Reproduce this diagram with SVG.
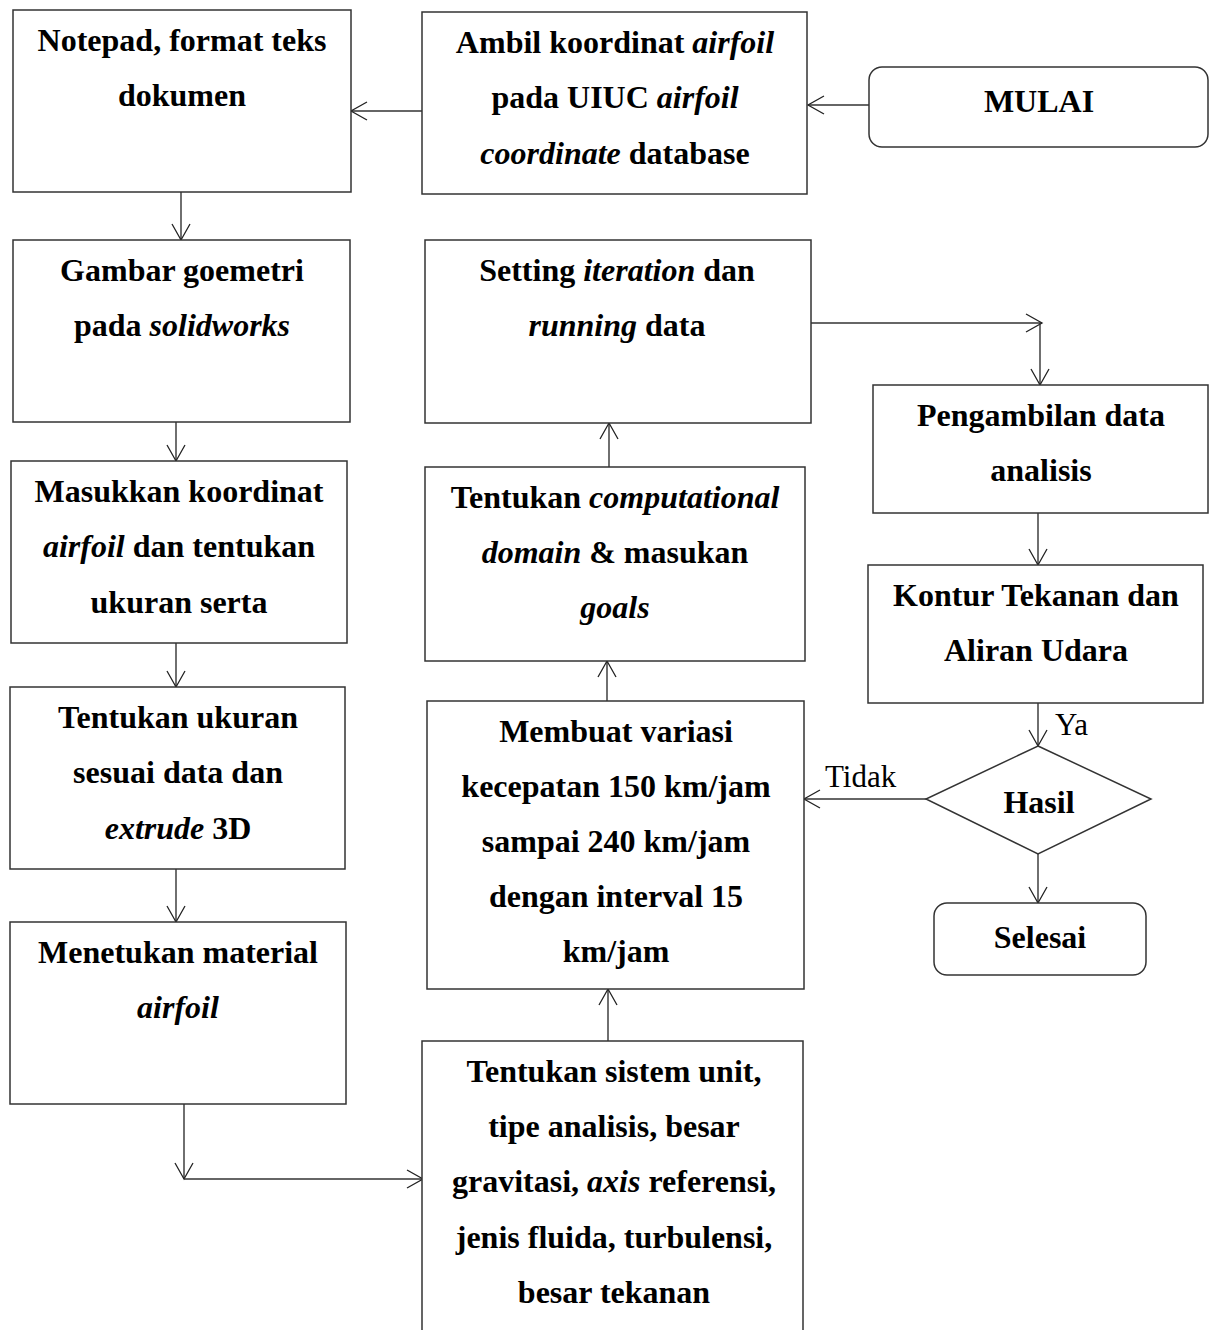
<svg xmlns="http://www.w3.org/2000/svg" width="1214" height="1330" viewBox="0 0 1214 1330">
<defs>
<marker id="arr" markerUnits="userSpaceOnUse" markerWidth="20" markerHeight="22" refX="17" refY="10" orient="auto">
<path d="M1,1 L17,10 L1,19" fill="none" stroke="#222" stroke-width="1.3"/>
</marker>
<style>
.box{fill:#fff;stroke:#333;stroke-width:1.5}
.t{font-family:"Liberation Serif","Times New Roman",serif;font-size:32px;font-weight:bold;fill:#000;text-anchor:middle}
.i{font-style:italic}
.lbl{font-family:"Liberation Serif","Times New Roman",serif;font-size:31px;fill:#000}
.c{fill:none;stroke:#333;stroke-width:1.4}
</style>
</defs>
<rect width="1214" height="1330" fill="#fff"/>

<g id="connectors">
<line class="c" x1="869" y1="105" x2="808" y2="105" marker-end="url(#arr)"/>
<line class="c" x1="422" y1="111" x2="351" y2="111" marker-end="url(#arr)"/>
<line class="c" x1="181" y1="192" x2="181" y2="240" marker-end="url(#arr)"/>
<line class="c" x1="176" y1="422" x2="176" y2="461" marker-end="url(#arr)"/>
<line class="c" x1="176" y1="643" x2="176" y2="687" marker-end="url(#arr)"/>
<line class="c" x1="176" y1="869" x2="176" y2="922" marker-end="url(#arr)"/>
<line class="c" x1="184" y1="1104" x2="184" y2="1179" marker-end="url(#arr)"/>
<line class="c" x1="184" y1="1179" x2="423" y2="1179" marker-end="url(#arr)"/>
<line class="c" x1="608" y1="1041" x2="608" y2="989" marker-end="url(#arr)"/>
<line class="c" x1="607" y1="701" x2="607" y2="661" marker-end="url(#arr)"/>
<line class="c" x1="609" y1="467" x2="609" y2="423" marker-end="url(#arr)"/>
<line class="c" x1="811" y1="323" x2="1042" y2="323" marker-end="url(#arr)"/>
<line class="c" x1="1040" y1="323" x2="1040" y2="385" marker-end="url(#arr)"/>
<line class="c" x1="1038" y1="513" x2="1038" y2="565" marker-end="url(#arr)"/>
<line class="c" x1="1038" y1="703" x2="1038" y2="746" marker-end="url(#arr)"/>
<line class="c" x1="926" y1="799" x2="804" y2="799" marker-end="url(#arr)"/>
<line class="c" x1="1038" y1="854" x2="1038" y2="903" marker-end="url(#arr)"/>
<text class="lbl" x="1055" y="735">Ya</text>
<text class="lbl" x="825" y="787">Tidak</text>
</g>

<g id="n-notepad">
<rect class="box" x="13" y="10" width="338" height="182"/>
<text class="t" x="182" y="51">Notepad, format teks</text>
<text class="t" x="182" y="106">dokumen</text>
</g>

<g id="n-ambil">
<rect class="box" x="422" y="12" width="385" height="182"/>
<text class="t" x="615" y="53">Ambil koordinat <tspan class="i">airfoil</tspan></text>
<text class="t" x="615" y="108">pada UIUC <tspan class="i">airfoil</tspan></text>
<text class="t" x="615" y="164"><tspan class="i">coordinate</tspan> database</text>
</g>

<g id="n-mulai">
<rect class="box" x="869" y="67" width="339" height="80" rx="13"/>
<text class="t" x="1039" y="112">MULAI</text>
</g>

<g id="n-gambar">
<rect class="box" x="13" y="240" width="337" height="182"/>
<text class="t" x="182" y="281">Gambar goemetri</text>
<text class="t" x="182" y="336">pada <tspan class="i">solidworks</tspan></text>
</g>

<g id="n-setting">
<rect class="box" x="425" y="240" width="386" height="183"/>
<text class="t" x="617" y="281">Setting <tspan class="i">iteration</tspan> dan</text>
<text class="t" x="617" y="336"><tspan class="i">running</tspan> data</text>
</g>

<g id="n-pengambilan">
<rect class="box" x="873" y="385" width="335" height="128"/>
<text class="t" x="1041" y="426">Pengambilan data</text>
<text class="t" x="1041" y="481">analisis</text>
</g>

<g id="n-masukkan">
<rect class="box" x="11" y="461" width="336" height="182"/>
<text class="t" x="179" y="502">Masukkan koordinat</text>
<text class="t" x="179" y="557"><tspan class="i">airfoil</tspan> dan tentukan</text>
<text class="t" x="179" y="613">ukuran serta</text>
</g>

<g id="n-computational">
<rect class="box" x="425" y="467" width="380" height="194"/>
<text class="t" x="615" y="508">Tentukan <tspan class="i">computational</tspan></text>
<text class="t" x="615" y="563"><tspan class="i">domain</tspan> &amp; masukan</text>
<text class="t" x="615" y="618"><tspan class="i">goals</tspan></text>
</g>

<g id="n-kontur">
<rect class="box" x="868" y="565" width="335" height="138"/>
<text class="t" x="1036" y="606">Kontur Tekanan dan</text>
<text class="t" x="1036" y="661">Aliran Udara</text>
</g>

<g id="n-ukuran">
<rect class="box" x="10" y="687" width="335" height="182"/>
<text class="t" x="178" y="728">Tentukan ukuran</text>
<text class="t" x="178" y="783">sesuai data dan</text>
<text class="t" x="178" y="839"><tspan class="i">extrude</tspan> 3D</text>
</g>

<g id="n-variasi">
<rect class="box" x="427" y="701" width="377" height="288"/>
<text class="t" x="616" y="742">Membuat variasi</text>
<text class="t" x="616" y="797">kecepatan 150 km/jam</text>
<text class="t" x="616" y="852">sampai 240 km/jam</text>
<text class="t" x="616" y="907">dengan interval 15</text>
<text class="t" x="616" y="962">km/jam</text>
</g>

<g id="n-hasil">
<polygon class="box" points="1038,746 1151,799 1038,854 926,799"/>
<text class="t" x="1039" y="813">Hasil</text>
</g>

<g id="n-selesai">
<rect class="box" x="934" y="903" width="212" height="72" rx="13"/>
<text class="t" x="1040" y="948">Selesai</text>
</g>

<g id="n-material">
<rect class="box" x="10" y="922" width="336" height="182"/>
<text class="t" x="178" y="963">Menetukan material</text>
<text class="t" x="178" y="1018"><tspan class="i">airfoil</tspan></text>
</g>

<g id="n-sistem">
<path class="box" d="M422,1331 L422,1041 L803,1041 L803,1331"/>
<text class="t" x="614" y="1082">Tentukan sistem unit,</text>
<text class="t" x="614" y="1137">tipe analisis, besar</text>
<text class="t" x="614" y="1192">gravitasi, <tspan class="i">axis</tspan> referensi,</text>
<text class="t" x="614" y="1248">jenis fluida, turbulensi,</text>
<text class="t" x="614" y="1303">besar tekanan</text>
</g>
</svg>
